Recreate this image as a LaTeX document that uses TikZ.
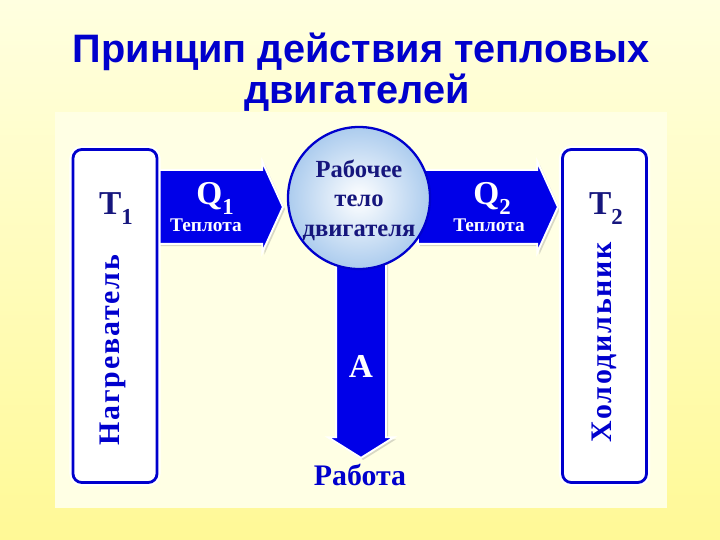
\documentclass[tikz,border=0pt]{standalone}
\usepackage{fontspec}
\setmainfont{Liberation Serif}
\newfontfamily\titlefont{Liberation Sans}
\usetikzlibrary{positioning,shapes.arrows,shadows}

\definecolor{bgtop}{RGB}{255,255,224}
\definecolor{bgbot}{RGB}{255,249,150}
\definecolor{panelcol}{RGB}{255,255,228}
\definecolor{titleblue}{RGB}{0,0,204}
\definecolor{arrblue}{RGB}{0,0,232}
\definecolor{boxblue}{RGB}{0,0,205}
\definecolor{navy}{RGB}{22,22,125}
\definecolor{ballblue}{RGB}{172,204,238}
\def\unitpx{0.02cm}
\newcommand\subidx[1]{\raisebox{-5.5pt}{\fontsize{13}{13}\selectfont #1}}

\begin{document}
\begin{tikzpicture}[x=0.02cm, y=-0.02cm, every node/.style={inner sep=0pt},
  bigarrow/.style={single arrow, draw=white, line width=1.1pt, fill=arrblue,
    inner xsep=0pt, drop shadow={opacity=0.3, shadow xshift=1.2pt, shadow yshift=-1.2pt}},
  reservoir/.style={rectangle, draw=boxblue, line width=1.6pt, rounded corners=5pt, fill=white,
    preaction={draw=white, line width=4pt},
    minimum width=84*\unitpx, minimum height=333*\unitpx},
  reslabel/.style={font=\fontsize{19}{19}\selectfont\bfseries, text=navy, anchor=base},
  vertlabel/.style={rotate=90, text=boxblue,
    font=\fontsize{17}{17}\selectfont\bfseries\addfontfeatures{LetterSpace=6}},
  heatlabel/.style={font=\fontsize{19}{19}\selectfont\bfseries, text=white, anchor=base},
  smalllabel/.style={font=\fontsize{11}{11}\selectfont\bfseries, text=white, anchor=base},
  balllabel/.style={font=\fontsize{14}{14}\selectfont\bfseries, text=navy, anchor=base}]
\useasboundingbox (0,0) rectangle (720,540);
% фон
\shade[top color=bgtop, bottom color=bgbot] (0,0) rectangle (720,540);
\fill[panelcol] (55,112) rectangle (667,508);

% заголовок
\node[font=\titlefont\fontsize{22.6}{22.6}\selectfont\bfseries, text=titleblue, anchor=base]
  (title1) at (361,63) {Принцип действия тепловых};
\node[font=\titlefont\fontsize{22.6}{22.6}\selectfont\bfseries, text=titleblue, anchor=base]
  (title2) at (357,104) {двигателей};

% стрелки
\node[bigarrow, anchor=tail, minimum height=127*\unitpx, inner ysep=36*\unitpx,
  single arrow head extend=8.5*\unitpx, single arrow tip angle=131]
  (q1arr) at (155,207) {};
\node[bigarrow, anchor=tip, minimum height=140*\unitpx, inner ysep=36*\unitpx,
  single arrow head extend=8.5*\unitpx, single arrow tip angle=131]
  (q2arr) at (559,207) {};
\node[bigarrow, anchor=tip, rotate=-90, minimum height=196*\unitpx, inner ysep=24*\unitpx,
  single arrow head extend=8*\unitpx, single arrow tip angle=116]
  (aarr) at (361,459) {};

% рабочее тело
\node[circle, minimum size=142*\unitpx, draw=boxblue, line width=1.3pt,
  inner color=white, outer color=ballblue]
  (body) at (359,198) {};
\node[balllabel] (body1) at (359,178) {Рабочее};
\node[balllabel] (body2) at (359,207) {тело};
\node[balllabel] (body3) at (359,237) {двигателя};

% нагреватель и холодильник
\node[reservoir] (hot) at (115,316) {};
\node[reservoir] (cold) at (604.5,316) {};
\node[reslabel] (t1) at (116,215) {T\subidx{1}};
\node[reslabel] (t2) at (606,215) {T\subidx{2}};
\node[vertlabel] (hotname) at (113,350) {Нагреватель};
\node[vertlabel] (coldname) at (604,342) {Холодильник};

% подписи стрелок
\node[heatlabel] (q1) at (215,205) {Q\subidx{1}};
\node[smalllabel] (q1name) at (206,232) {Теплота};
\node[heatlabel] (q2) at (492,205) {Q\subidx{2}};
\node[smalllabel] (q2name) at (489,232) {Теплота};
\node[heatlabel, anchor=center] (work) at (361,366) {A};
\node[font=\fontsize{17}{17}\selectfont\bfseries, text=boxblue, anchor=base]
  (workname) at (360,485) {Работа};
\end{tikzpicture}
\end{document}
